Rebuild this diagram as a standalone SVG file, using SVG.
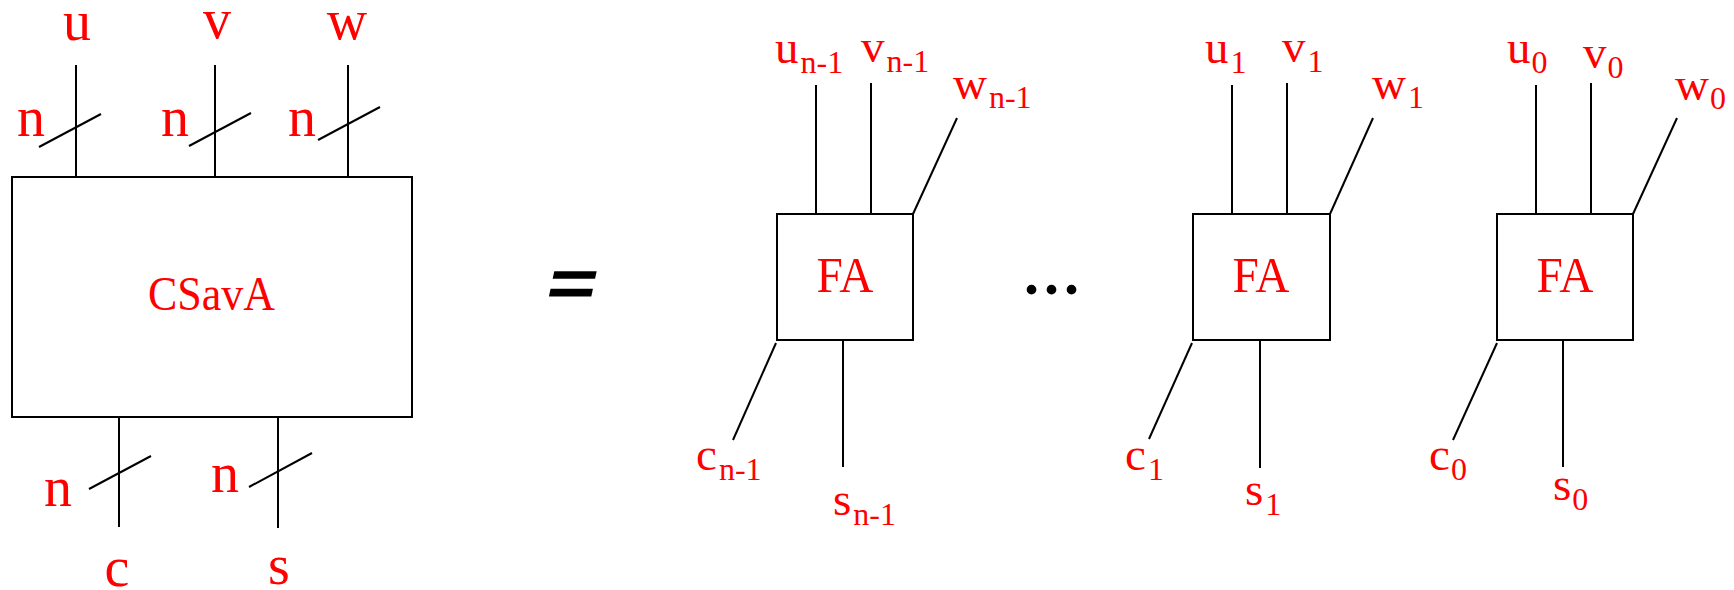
<svg xmlns="http://www.w3.org/2000/svg" width="1734" height="590" viewBox="0 0 1734 590">
<style>
.ln{stroke:#000;stroke-width:2;fill:none}
.bx{stroke:#000;stroke-width:2;fill:#fff}
.lb{font-family:"Liberation Serif",serif;fill:#f00}
.big{font-size:56px;text-anchor:middle}
.mid{font-size:47px}
.sub{font-size:32px}
</style>
<rect width="1734" height="590" fill="#fff"/>
<g id="connectors">
<line class="ln" x1="76" y1="65" x2="76" y2="177"/>
<line class="ln" x1="215" y1="65" x2="215" y2="177"/>
<line class="ln" x1="348" y1="65" x2="348" y2="177"/>
<line class="ln" x1="39" y1="147" x2="101" y2="114"/>
<line class="ln" x1="189" y1="146" x2="251" y2="113"/>
<line class="ln" x1="318" y1="140" x2="380" y2="107"/>
<line class="ln" x1="119" y1="417" x2="119" y2="527"/>
<line class="ln" x1="278" y1="417" x2="278" y2="528"/>
<line class="ln" x1="89" y1="489" x2="151" y2="456"/>
<line class="ln" x1="249" y1="487" x2="312" y2="453"/>
<line class="ln" x1="816" y1="85" x2="816" y2="214"/>
<line class="ln" x1="871" y1="83" x2="871" y2="213"/>
<line class="ln" x1="913" y1="214" x2="957" y2="118"/>
<line class="ln" x1="776" y1="343" x2="733" y2="440"/>
<line class="ln" x1="843" y1="340" x2="843" y2="467"/>
<line class="ln" x1="1232" y1="85" x2="1232" y2="214"/>
<line class="ln" x1="1287" y1="83" x2="1287" y2="213"/>
<line class="ln" x1="1330" y1="214" x2="1373" y2="118"/>
<line class="ln" x1="1192" y1="343" x2="1149" y2="439"/>
<line class="ln" x1="1260" y1="340" x2="1260" y2="468"/>
<line class="ln" x1="1536" y1="85" x2="1536" y2="214"/>
<line class="ln" x1="1591" y1="83" x2="1591" y2="213"/>
<line class="ln" x1="1633" y1="214" x2="1677" y2="118"/>
<line class="ln" x1="1497" y1="343" x2="1453" y2="440"/>
<line class="ln" x1="1563" y1="340" x2="1563" y2="467"/>
</g>
<g id="csava">
<rect class="bx" x="12" y="177" width="400" height="240"/>
<text class="lb" x="148" y="310" font-size="48" textLength="127" lengthAdjust="spacingAndGlyphs">CSavA</text>
</g>
<g id="labels-left">
<text class="lb big" x="77" y="40">u</text>
<text class="lb big" x="217" y="38">v</text>
<text class="lb big" x="347" y="39">w</text>
<text class="lb big" x="31" y="136">n</text>
<text class="lb big" x="175" y="136">n</text>
<text class="lb big" x="302" y="136">n</text>
<text class="lb big" x="58" y="506">n</text>
<text class="lb big" x="225" y="492">n</text>
<text class="lb big" x="117" y="586">c</text>
<text class="lb big" x="279" y="584">s</text>
</g>
<g id="equals">
<text x="572" y="313" font-family="Liberation Serif,serif" font-weight="bold" font-size="88" text-anchor="middle" stroke="#000" stroke-width="1.5" transform="translate(572,289) skewX(-12) translate(-572,-289)">=</text>
</g>
<g id="fa-n-1">
<rect class="bx" x="777" y="214" width="136" height="126"/>
<text class="lb" x="845" y="292" font-size="50" text-anchor="middle" textLength="57" lengthAdjust="spacingAndGlyphs">FA</text>
<text class="lb mid" x="775" y="63">u<tspan class="sub" dx="2" dy="10">n-1</tspan></text>
<text class="lb mid" x="861" y="62">v<tspan class="sub" dx="2" dy="10">n-1</tspan></text>
<text class="lb mid" x="953" y="99">w<tspan class="sub" dx="2" dy="9">n-1</tspan></text>
<text class="lb mid" x="696" y="470">c<tspan class="sub" dx="2" dy="10">n-1</tspan></text>
<text class="lb mid" x="833" y="515">s<tspan class="sub" dx="2" dy="10">n-1</tspan></text>
</g>
<g id="dots">
<text x="1024" y="294" font-family="Liberation Serif,serif" font-weight="bold" font-size="60" letter-spacing="5">...</text>
</g>
<g id="fa-1">
<rect class="bx" x="1193" y="214" width="137" height="126"/>
<text class="lb" x="1261" y="292" font-size="50" text-anchor="middle" textLength="57" lengthAdjust="spacingAndGlyphs">FA</text>
<text class="lb mid" x="1205" y="63">u<tspan class="sub" dx="2" dy="10">1</tspan></text>
<text class="lb mid" x="1282" y="62">v<tspan class="sub" dx="2" dy="10">1</tspan></text>
<text class="lb mid" x="1372" y="99">w<tspan class="sub" dx="2" dy="9">1</tspan></text>
<text class="lb mid" x="1125" y="470">c<tspan class="sub" dx="2" dy="10">1</tspan></text>
<text class="lb mid" x="1245" y="505">s<tspan class="sub" dx="2" dy="10">1</tspan></text>
</g>
<g id="fa-0">
<rect class="bx" x="1497" y="214" width="136" height="126"/>
<text class="lb" x="1565" y="292" font-size="50" text-anchor="middle" textLength="57" lengthAdjust="spacingAndGlyphs">FA</text>
<text class="lb mid" x="1507" y="63">u<tspan class="sub" dx="1" dy="10">0</tspan></text>
<text class="lb mid" x="1583" y="68">v<tspan class="sub" dx="1" dy="10">0</tspan></text>
<text class="lb mid" x="1675" y="100">w<tspan class="sub" dx="1" dy="9">0</tspan></text>
<text class="lb mid" x="1429" y="470">c<tspan class="sub" dx="1" dy="10">0</tspan></text>
<text class="lb mid" x="1553" y="500">s<tspan class="sub" dx="1" dy="10">0</tspan></text>
</g>
</svg>
